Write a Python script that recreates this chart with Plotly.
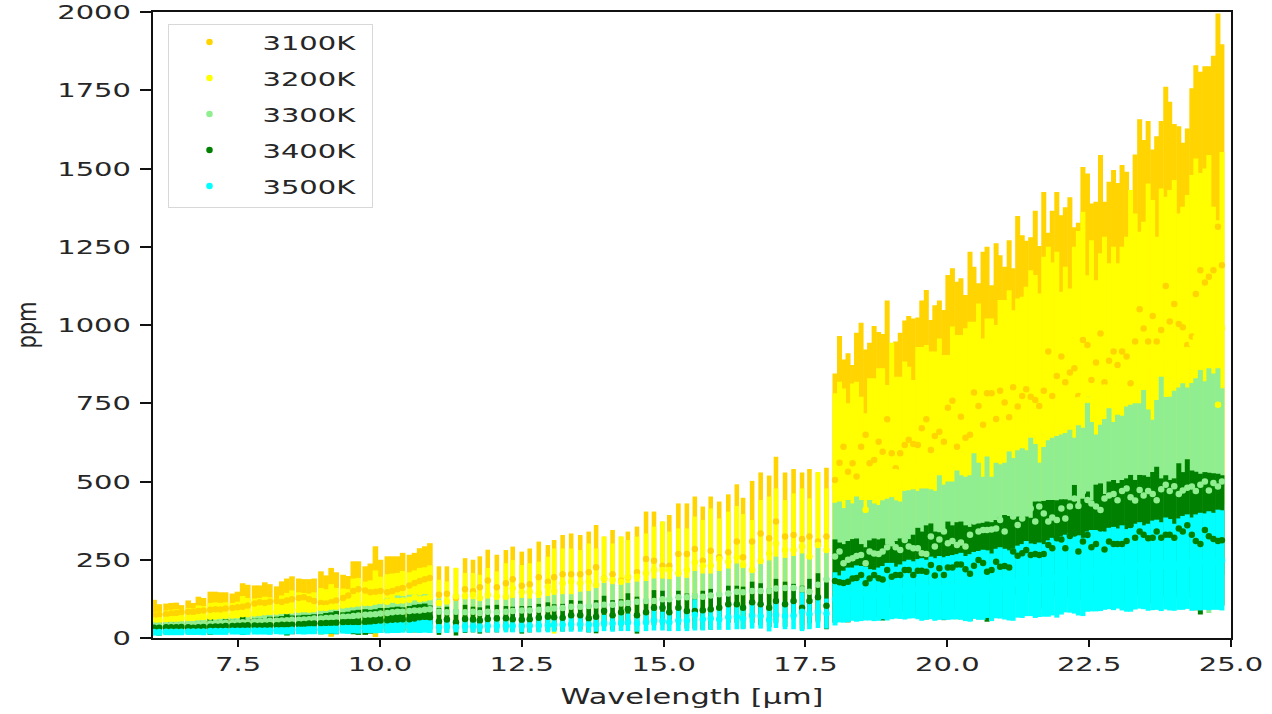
import numpy as np
import plotly.graph_objects as go

temperatures = ["3100K", "3200K", "3300K", "3400K", "3500K"]
colors = ["#FFD400", "#FFFF00", "#90EE90", "#008000", "#00FFFF"]
x_ticks = [7.5, 10.0, 12.5, 15.0, 17.5, 20.0, 22.5, 25.0]
y_ticks = [0, 250, 500, 750, 1000, 1250, 1500, 1750, 2000]

# Wavelengths [um]
x_a = [6.02,6.11, 6.23,6.32,6.41,6.50, 6.62,6.71,6.80,6.89, 7.01,7.10,7.19,7.28, 7.40,7.49,7.58,7.67,
       7.79,7.88,7.97,8.06, 8.18,8.27,8.36,8.45, 8.57,8.66,8.75,8.84, 8.96,9.05,9.14,9.23,
       9.35,9.44,9.53,9.62, 9.74,9.83,9.92,10.01, 10.13,10.22,10.31,10.40, 10.52,10.61,10.70,10.79, 10.88]
x_b = [11.04,11.18,11.34,11.50,11.64,11.76,11.90,12.06,12.22,12.34,
       12.50,12.64,12.80,12.96,13.07,13.22,13.37,13.53,13.68,13.81,
       13.95,14.10,14.25,14.37,14.53,14.69,14.83,14.98,15.10,15.26,
       15.41,15.55,15.69,15.83,15.98,16.14,16.29,16.40,16.56,16.71,
       16.86,16.98,17.14,17.29,17.44,17.57,17.72,17.87]
x_c = [18.02,18.10,18.17,18.25,18.33,18.40,18.48,18.56,18.63,18.71,
       18.79,18.86,18.94,19.02,19.09,19.17,19.25,19.32,19.40,19.48,
       19.55,19.63,19.71,19.78,19.86,19.94,20.01,20.09,20.17,20.24,
       20.32,20.40,20.47,20.55,20.63,20.70,20.78,20.86,20.93,21.01,
       21.09,21.16,21.24,21.32,21.39,21.47,21.55,21.62,21.70,21.78,
       21.85,21.93,22.01,22.08,22.16,22.24,22.31,22.39,22.47,22.54,
       22.62,22.70,22.77,22.85,22.93,23.00,23.08,23.16,23.23,23.31,
       23.39,23.46,23.54,23.62,23.69,23.77,23.85,23.92,24.00,24.08,
       24.15,24.23,24.31,24.38,24.46,24.54,24.61,24.69,24.77,24.84]

# 3100K
y_3100_a = [72,74,76,78,80,82,84,83,86,88, 90,92,91,94,96,98,100,104,110,114,
            112,116,118,115,120,124,128,130,124,118, 112,110,114,120,128,136,150,156,152,146,
            148,150,146,150,156,160,168,176,182,188,192]
up_3100_a = [122,108,110,112,113,105,120,112,132,128, 148,148,146,146,142,148,175,170,168,168,
             178,172,165,181,190,197,190,188,188,190, 213,200,224,210,202,198,245,245,229,238,
             293,250,261,261,261,272,266,272,287,293,303]
y_3100_b = [138,141,128,156,149,162,184,162,175,188, 167,172,194,180,194,204,204,204,210,226,
            190,204,183,194,210,252,247,231,231,268, 268,284,247,279,258,274,308,258,308,334,
            319,372,324,329,316,324,308,324]
up_3100_b = [229,229,224,255,250,261,282,266,281,292, 276,286,308,297,313,329,334,329,340,361,
             324,345,324,340,356,404,404,372,393,430, 430,452,420,452,436,459,491,448,502,529,
             519,579,529,540,529,540,529,544]
y_3100_c = [505,560,611,531,558,516,611,649,558,569,
            627,595,699,590,542,590,617,633,620,617,
            670,699,601,645,659,627,736,758,611,707,
            640,649,784,741,681,782,782,700,790,752,
            705,801,740,773,795,771,760,741,790,915,
            773,837,899,817,848,862,773,952,936,824,
            880,973,817,886,915,872,915,899,814,947,
            1050,989,947,1029,947,984,1125,1011,1067,1003,
            993,936,963,1099,1175,1136,1154,1175,1314,1191]
up_3100_c = [845,965,890,910,872,975,1007,922,943,997,
             978,971,1078,922,947,975,1014,1029,1021,1024,
             1078,1112,1016,1063,1078,1048,1160,1181,1138,1149,
             1096,1234,1186,1133,1234,1250,1127,1261,1223,1186,
             1271,1181,1348,1287,1269,1280,1365,1252,1425,1295,
             1365,1425,1351,1376,1408,1312,1327,1505,1484,1388,
             1394,1543,1394,1458,1495,1454,1511,1490,1431,1545,
             1657,1591,1652,1561,1603,1652,1761,1713,1642,1635,
             1582,1628,1756,1830,1809,1827,1827,1860,1995,1897]

# 3200K
y_3200_a = [56,57,58,60,60,62,62,64,66,66, 68,69,70,71,72,73,76,76,78,80,
            82,84,84,86,86,88,90,92,90,92, 96,96,100,100,104,106,108,110,112,112,
            116,118,116,122,118,120,122,130,124,126,130]
up_3200_a = [82,84,88,90,92,90,96,94,104,102, 112,114,112,114,112,116,134,128,126,128,
             132,130,128,136,144,152,146,144,142,146, 160,156,172,160,158,156,190,192,180,184,
             216,196,204,206,208,214,210,216,224,226,232]
y_3200_b = [112,117,133,133,138,128,138,133,132,159, 146,148,143,164,150,175,180,175,180,169,
            190,185,180,196,196,207,217,217,217,207, 217,242,231,231,252,244,258,233,217,247,
            270,302,281,281,292,260,297,281]
up_3200_b = [186,181,224,208,208,202,224,213,239,249, 233,239,244,260,286,286,286,281,302,286,
             324,302,324,313,324,334,356,372,340,350, 350,388,377,414,382,404,422,396,377,441,
             452,478,441,462,478,446,530,478]
y_3200_c = [480,490,470,480,495,490,480,410,500,510,
            520,510,515,530,530,520,540,530,525,545,
            550,560,555,565,570,560,565,585,590,590,
            600,610,605,615,610,620,625,630,640,640,
            650,645,660,665,670,680,690,680,700,710,
            710,720,720,730,735,750,760,770,760,780,
            770,790,800,790,810,800,820,830,860,850,
            850,860,880,880,860,900,890,900,920,900,
            910,920,940,960,950,960,980,950,745,990]
up_3200_c = [782,819,797,750,813,819,771,718,830,830,
             862,862,808,943,835,835,883,867,824,930,
             930,936,915,915,957,904,904,995,968,968,
             990,1010,1010,1069,957,1021,1021,1000,1080,1080,
             1111,1047,1085,1090,1122,1175,1160,1101,1218,1250,
             1200,1234,1106,1186,1117,1250,1300,1362,1159,1271,
             1143,1229,1282,1197,1250,1197,1250,1282,1431,1356,
             1298,1330,1452,1399,1282,1436,1410,1431,1463,1356,
             1378,1415,1479,1532,1486,1500,1543,1378,1335,1553]

# 3300K
y_3300_a = [40,40,41,42,42,43,44,44,45,46, 46,47,48,49,49,50,50,51,52,53,
            54,55,55,56,57,58,58,59,60,62, 62,64,65,66,68,68,70,72,74,75,
            76,78,80,82,84,84,86,88,88,90,92]
up_3300_a = [52,50,52,54,56,54,58,56,60,60, 62,62,64,70,66,64,68,70,74,72,
             76,74,78,80,80,84,82,84,88,90, 100,104,106,108,110,108,112,110,114,116,
             120,124,126,130,136,134,138,140,136,140,138]
y_3300_b = [84,82,84,82,84,80,84,82,84,86, 88,88,90,92,94,96,100,100,102,104,
            106,106,110,112,116,118,118,124,124,130, 130,134,132,136,140,142,148,146,150,150,
            150,158,160,160,156,148,170,188]
up_3300_b = [126,122,124,130,124,120,126,122,130,128, 128,126,128,134,138,140,140,148,150,160,
             176,172,172,176,180,182,190,190,188,196, 192,214,206,206,214,222,238,226,226,236,
             248,260,256,262,270,262,292,288]
y_3300_c = [260,276,239,250,255,262,265,239,276,270,
            268,276,290,303,290,281,313,292,287,287,
            271,268,324,292,315,340,303,310,297,305,
            292,330,372,340,345,345,347,350,377,340,
            400,388,361,382,404,414,372,420,398,372,
            385,377,414,382,420,446,422,468,441,430,
            420,409,446,455,460,440,470,478,450,439,
            473,455,470,460,440,475,490,470,485,460,
            471,480,484,470,490,500,471,495,484,500]
up_3300_c = [432,436,415,441,430,452,441,400,441,430,
             425,440,445,450,440,436,470,472,475,470,
             478,478,475,470,520,490,500,500,535,520,
             515,520,590,560,515,580,515,560,555,560,
             596,575,600,606,600,640,620,560,610,632,
             640,645,650,655,665,640,680,672,771,690,
             650,681,700,734,690,713,710,740,745,750,
             750,792,730,697,760,835,770,771,790,800,
             814,800,815,830,856,820,862,845,862,798]

# 3400K
y_3400_a = [33,33,34,34,34,35,34,33,34,35, 36,37,37,38,38,39,40,41,40,39,
            40,41,41,42,42,42,44,45,46,46, 47,48,48,49,50,51,50,50,51,52,
            54,56,57,58,59,60,60,62,66,68,66]
up_3400_a = [46,58,48,52,50,50,50,50,52,54, 62,55,56,60,58,58,70,60,62,62,
             64,68,68,70,76,72,72,74,74,76, 76,80,82,86,82,84,88,90,92,90,
             92,96,96,98,100,98,102,106,108,110,104]
y_3400_b = [53,59,50,61,59,56,61,62,63,60, 58,60,65,68,66,65,73,73,63,68,
            86,73,82,92,73,82,97,97,82,97, 86,86,89,92,97,108,108,97,114,108,
            97,118,108,118,97,118,130,103]
up_3400_b = [96,100,92,106,100,98,104,106,102,100, 102,102,109,114,108,109,121,119,108,121,
             135,121,124,143,132,121,153,151,120,151, 142,142,151,157,143,167,167,164,180,175,
             159,189,180,173,167,189,207,178]
y_3400_c = [182,178,176,180,190,192,201,175,190,201,
            191,187,217,196,201,201,217,217,201,215,
            215,212,233,200,223,201,225,225,235,235,
            220,205,231,249,240,212,217,244,228,230,
            225,276,263,271,281,265,268,265,268,297,
            287,319,315,287,326,334,276,308,329,290,
            300,350,283,308,300,300,300,310,361,320,
            340,330,319,320,340,320,330,330,320,350,
            340,360,330,310,300,345,325,316,310,312]
up_3400_c = [315,305,300,310,316,318,300,290,312,318,
             315,318,300,295,310,318,320,316,330,352,
             340,360,366,340,338,345,372,360,370,372,
             360,355,372,366,368,372,370,377,385,393,
             390,380,388,385,388,384,436,436,438,441,
             441,440,443,443,440,489,430,445,468,440,
             490,494,460,500,505,495,505,510,521,505,
             521,520,515,530,547,510,520,505,510,558,
             530,571,535,531,525,530,528,526,525,520]

# 3500K
y_3500_a = [19,19,20,20,20,20,21,21,21,21, 22,22,22,22,23,23,23,23,24,24,
            24,24,25,25,25,26,26,26,27,27, 27,28,29,29,30,30,31,31,32,33,
            33,34,34,35,35,36,36,37,37,38,37]
up_3500_a = [30,30,31,31,31,31,32,32,32,33, 33,34,34,34,35,35,36,36,37,37,
             37,38,38,39,39,40,40,41,42,42, 43,44,44,45,46,47,47,48,48,50,
             51,52,53,54,54,55,56,56,58,59,58]
y_3500_b = [34,36,34,37,37,36,38,38,38,38, 38,39,40,41,42,42,44,44,42,43,
            48,46,48,50,46,50,56,54,50,56, 56,74,60,62,60,66,68,62,72,70,
            58,74,70,72,84,76,84,78]
up_3500_b = [52,56,50,56,56,54,58,58,58,58, 58,60,62,64,64,64,68,68,66,66,
             74,72,74,78,72,78,88,84,78,90, 90,124,96,98,94,106,108,96,114,110,
             95,116,112,116,146,124,136,126]
y_3500_c = [125,125,132,138,140,142,142,142,138,136,
            140,145,148,150,145,148,152,156,154,156,
            155,154,160,155,160,158,160,162,164,165,
            158,160,168,168,170,172,162,174,176,172,
            168,170,180,182,190,186,182,186,184,190,
            196,190,200,206,208,205,200,195,212,215,
            215,218,215,222,222,222,224,216,218,228,
            232,226,226,232,234,228,238,234,226,236,
            240,244,236,242,244,244,247,245,250,248]
up_3500_c = [210,200,215,225,225,232,230,228,220,218,
             225,230,240,240,228,235,245,250,245,252,
             255,250,260,255,262,258,262,265,268,272,
             262,268,275,278,282,280,270,285,290,285,
             280,285,295,300,310,302,300,305,300,312,
             320,315,325,330,335,332,328,320,340,345,
             345,350,340,352,355,350,360,348,352,365,
             370,360,365,375,378,370,385,380,365,382,
             390,395,385,395,400,398,405,400,410,408]

series = [
    (y_3100_a, up_3100_a, y_3100_b, up_3100_b, y_3100_c, up_3100_c),
    (y_3200_a, up_3200_a, y_3200_b, up_3200_b, y_3200_c, up_3200_c),
    (y_3300_a, up_3300_a, y_3300_b, up_3300_b, y_3300_c, up_3300_c),
    (y_3400_a, up_3400_a, y_3400_b, up_3400_b, y_3400_c, up_3400_c),
    (y_3500_a, up_3500_a, y_3500_b, up_3500_b, y_3500_c, up_3500_c),
]

fig = go.Figure()

# Error bars first (all below every marker)
for color, s in zip(colors, series):
    for xs, ys, ups, thick in ((x_a, s[0], s[1], 5.6), (x_b, s[2], s[3], 4.6), (x_c, s[4], s[5], 5.0)):
        ys = np.array(ys, float)
        ups = np.array(ups, float)
        fig.add_trace(go.Scatter(
            x=xs, y=ys, mode="markers", marker=dict(size=2, opacity=0, color=color),
            error_y=dict(type="data", array=ups - ys, symmetric=True, color=color,
                         thickness=thick, width=0),
            showlegend=False, hoverinfo="skip"))

# Markers on top, in series order
for name, color, s in zip(temperatures, colors, series):
    fig.add_trace(go.Scatter(
        x=x_a + x_b + x_c, y=s[0] + s[2] + s[4], mode="markers", name=name, legendgroup=name,
        marker=dict(size=6.5, color=color, line=dict(width=0))))

TXT = "#262626"
tick_font = dict(family="DejaVu Sans", size=20, color=TXT)
fig.update_layout(
    width=1272, height=714,
    margin=dict(l=153, r=41, t=12, b=76, autoexpand=False),
    paper_bgcolor="white", plot_bgcolor="white",
    font=dict(family="DejaVu Sans", color=TXT),
    showlegend=True,
    legend=dict(x=0.0139, y=0.981, xanchor="left", yanchor="top", bgcolor="white",
                bordercolor="#d8d8d8", borderwidth=1.5, itemwidth=70, tracegroupgap=7,
                font=dict(family="DejaVu Sans", size=20, color=TXT)),
    xaxis=dict(range=[6, 25], tickmode="array", tickvals=x_ticks,
               ticktext=[f"{v:.1f}" for v in x_ticks], ticks="outside", ticklen=7, tickwidth=1.5,
               tickcolor="#111", showline=True, linecolor="#111", linewidth=2, mirror=True,
               showgrid=False, zeroline=False, tickfont=tick_font, ticklabeloverflow="allow",
               title=dict(text="Wavelength [µm]", font=dict(family="DejaVu Sans", size=21, color=TXT), standoff=14)),
    yaxis=dict(range=[0, 2000], tickmode="array", tickvals=y_ticks,
               ticks="outside", ticklen=11, tickwidth=1.5, ticklabelstandoff=5,
               tickcolor="#111", showline=True, linecolor="#111", linewidth=2, mirror=True,
               showgrid=False, zeroline=False, tickfont=tick_font, ticklabeloverflow="allow",
               title=dict(text="ppm", font=dict(family="DejaVu Sans", size=21, color=TXT), standoff=38)),
)

for s in series:
    assert len(s[0]) == len(s[1]) == len(x_a), (len(s[0]), len(s[1]), len(x_a))
    assert len(s[2]) == len(s[3]) == len(x_b), (len(s[2]), len(s[3]), len(x_b))
    assert len(s[4]) == len(s[5]) == len(x_c), (len(s[4]), len(s[5]), len(x_c))

# The reference picture has its text stretched sideways; the page sits flush with the window.
post_js = """
document.body.style.margin='0';
document.querySelectorAll('.xtick text,.ytick text,.g-xtitle text').forEach(function(t){
  var x=parseFloat(t.getAttribute('x'))||0; var old=t.getAttribute('transform')||'';
  t.setAttribute('transform',old+' translate('+x+',0) scale(1.45,1) translate('+(-x)+',0)');
});
document.querySelectorAll('.legendtext').forEach(function(t){
  var x=parseFloat(t.getAttribute('x'))||0; var old=t.getAttribute('transform')||'';
  t.setAttribute('transform',old+' translate('+(x+13)+',0) scale(1.45,1) translate('+(-x)+',0)');
});
document.querySelectorAll('.g-ytitle text').forEach(function(t){
  var x=parseFloat(t.getAttribute('x'))||0; var old=t.getAttribute('transform')||'';
  t.setAttribute('transform','translate('+x+',0) scale(1.3,1) translate('+(-x)+',0) '+old);
});
var bg=document.querySelector('.legend rect.bg');
if(bg){bg.setAttribute('width','204');bg.setAttribute('height','183');}
var sb=document.querySelector('.legend .scrollbox');
if(sb){sb.removeAttribute('clip-path');sb.setAttribute('transform','translate(0,-3)');}
"""
fig.write_html("out.html", post_script=post_js, config={"displayModeBar": False})
